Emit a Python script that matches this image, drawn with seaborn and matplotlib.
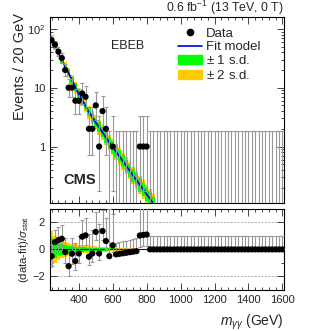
import math
import numpy as np
import pandas as pd
import matplotlib
matplotlib.use("Agg")
import matplotlib.pyplot as plt
import seaborn as sns
from matplotlib.lines import Line2D
from matplotlib.patches import Patch
from matplotlib.ticker import AutoMinorLocator, LogLocator, NullFormatter

# bin centres (20 GeV bins, 230-1610 GeV)
mass = list(range(240, 1601, 20))

# event counts
counts = [64, 54, 41, 32, 20, 10, 10, 6, 6, 8, 7, 2, 2, 5, 1, 4, 2, 0, 1,
          0, 0, 0, 0, 0, 0, 0, 1, 1, 1,
          0, 0, 0, 0, 0, 0, 0, 0, 0, 0, 0, 0, 0, 0, 0, 0, 0, 0, 0, 0,
          0, 0, 0, 0, 0, 0, 0, 0, 0, 0, 0, 0, 0, 0, 0, 0, 0, 0, 0, 0]

# fit model (events per bin)
fit_mass = [230, 240, 260, 280, 300, 320, 340, 360, 380, 400, 420, 440, 460,
            480, 500, 520, 540, 560, 580, 600, 620, 640, 660, 680, 700, 720,
            740, 760, 780, 800, 820, 840]
fit_events = [77.6, 67.6, 51.3, 38.9, 29.5, 22.4, 17.8, 13.5, 10.2, 7.76,
              6.17, 4.90, 3.85, 3.13, 2.57, 2.11, 1.74, 1.43, 1.17, 0.98,
              0.81, 0.68, 0.56, 0.47, 0.39, 0.32, 0.27, 0.224, 0.186, 0.155,
              0.129, 0.107]
# fit uncertainty, in decades (log10), for bins 240..840
fit_sd1 = [0.04, 0.04, 0.045, 0.045, 0.05, 0.055, 0.06, 0.065, 0.07, 0.07,
           0.075, 0.075, 0.08, 0.08, 0.085, 0.085, 0.09, 0.09, 0.095, 0.095,
           0.1, 0.1, 0.1, 0.105, 0.105, 0.11, 0.11, 0.11, 0.115, 0.115,
           0.12]
fit_sd2 = [0.065, 0.065, 0.07, 0.075, 0.08, 0.085, 0.09, 0.095, 0.1, 0.105,
           0.11, 0.11, 0.115, 0.12, 0.125, 0.125, 0.13, 0.13, 0.135, 0.135,
           0.14, 0.14, 0.145, 0.145, 0.15, 0.15, 0.155, 0.155, 0.16, 0.16,
           0.165]

# pulls (data-fit)/sigma_stat
pulls = [-0.5, 0.54, 0.69, 0.79, -0.2, -1.24, -0.32, -0.86, -0.3, 0.94, 1.04,
         -0.54, -0.3, 1.3, -0.3, 1.36, 0.62, -0.5, 0.3,
         -0.37, -0.33, -0.29, -0.25, -0.21, -0.17, -0.13, 1.03, 1.07, 1.1,
         0, 0, 0, 0, 0, 0, 0, 0, 0, 0, 0, 0, 0, 0, 0, 0, 0, 0, 0, 0,
         0, 0, 0, 0, 0, 0, 0, 0, 0, 0, 0, 0, 0, 0, 0, 0, 0, 0, 0, 0]
pull_lo = [0.75, 0.8, 0.8, 0.8, 0.8, 0.75, 0.75, 0.7, 0.7, 0.75, 0.75, 0.6,
           0.6, 0.6, 0.5, 0.65, 0.6, 0.0, 0.5,
           0, 0, 0, 0, 0, 0, 0, 0.85, 0.85, 0.85] + [0] * 40
pull_hi = [0.85, 0.9, 0.95, 1.0, 1.05, 1.15, 1.15, 1.3, 1.3, 1.2, 1.25, 1.7,
           1.7, 1.5, 2.2, 1.55, 1.7, 3.5, 2.3,
           0.82, 0.85, 0.88, 0.9, 0.93, 0.95, 0.98, 2.5, 2.5, 2.5] + [1.0] * 40
# fit band in pull units, bins 240..820
pull_sd1 = [0.85, 0.6, 0.45, 0.38, 0.32, 0.27, 0.23, 0.2, 0.18, 0.16, 0.15,
            0.14, 0.13, 0.12, 0.11, 0.1, 0.09, 0.08, 0.07, 0.07, 0.06, 0.06,
            0.05, 0.05, 0.04, 0.04, 0.03, 0.03, 0.03, 0.02]
pull_sd2 = [1.35, 1.0, 0.8, 0.65, 0.55, 0.48, 0.42, 0.37, 0.33, 0.3, 0.28,
            0.26, 0.24, 0.22, 0.2, 0.18, 0.16, 0.14, 0.13, 0.12, 0.11, 0.1,
            0.09, 0.08, 0.07, 0.06, 0.05, 0.05, 0.04, 0.03]


def poisson_cdf(n, mu):
    return sum(math.exp(-mu) * mu ** k / math.factorial(k) for k in range(n + 1))


def garwood(n, a=0.1587):
    # 68% Poisson interval by bisection
    def solve(f, lo, hi):
        for _ in range(60):
            mid = 0.5 * (lo + hi)
            if f(mid) > 0:
                lo = mid
            else:
                hi = mid
        return 0.5 * (lo + hi)
    up = solve(lambda mu: poisson_cdf(n, mu) - a, 0.0, n + 20.0)
    low = 0.0 if n == 0 else solve(lambda mu: a - (1 - poisson_cdf(n - 1, mu)), 0.0, n + 5.0)
    return low, up


df = pd.DataFrame({"mass": mass, "counts": counts, "pull": pulls,
                   "pull_lo": pull_lo, "pull_hi": pull_hi})
intervals = [garwood(n) for n in counts]
ybot = 1e-3
df["y"] = [n if n > 0 else ybot for n in counts]
df["err_lo"] = [(n - lo) if n > 0 else 0 for n, (lo, hi) in zip(counts, intervals)]
df["err_hi"] = [hi - y for y, (lo, hi) in zip(df["y"], intervals)]

sns.set_style("ticks")
plt.rcParams["font.family"] = ["Liberation Sans", "DejaVu Sans"]
plt.rcParams["mathtext.fontset"] = "custom"
plt.rcParams["mathtext.rm"] = "Liberation Sans"
plt.rcParams["mathtext.it"] = "Liberation Sans:italic"

fig = plt.figure(figsize=(3.16, 3.31), dpi=100)
ax1 = fig.add_axes([0.158, 0.387, 0.741, 0.562])
ax2 = fig.add_axes([0.158, 0.124, 0.741, 0.245], sharex=ax1)

green = "#00ff00"
yellow = "#ffcc00"
gray = "#999999"
blue = "#0000dd"

# ---- top panel ----
band_x = fit_mass[1:]
band_c = np.log10(fit_events[1:])
ax1.bar(band_x, 10 ** (band_c + fit_sd2) - 10 ** (band_c - fit_sd2), width=20,
        bottom=10 ** (band_c - fit_sd2), color=yellow, linewidth=0, zorder=1)
ax1.bar(band_x, 10 ** (band_c + fit_sd1) - 10 ** (band_c - fit_sd1), width=20,
        bottom=10 ** (band_c - fit_sd1), color=green, linewidth=0, zorder=2)
sns.lineplot(x=fit_mass, y=fit_events, ax=ax1, color=blue, lw=1.2, zorder=3)
ax1.errorbar(df["mass"], df["y"], yerr=[df["err_lo"], df["err_hi"]], fmt="none",
             ecolor=gray, elinewidth=0.8, capsize=1.3, capthick=0.8, zorder=4)
nz = df[df["counts"] > 0]
sns.scatterplot(data=nz, x="mass", y="counts", ax=ax1, color="black", s=20,
                edgecolor="none", zorder=5)

ax1.set_yscale("log")
ax1.set_xlim(230, 1610)
ax1.set_ylim(0.11, 160)
ax1.set_ylabel("Events / 20 GeV", fontsize=10.5, loc="top")
ax1.set_xlabel("")
ax1.yaxis.set_label_coords(-0.1, 1.02)
ax1.yaxis.set_minor_locator(LogLocator(subs=np.arange(2, 10)))
ax1.yaxis.set_minor_formatter(NullFormatter())
ax1.set_yticks([1, 10, 100])
ax1.set_yticklabels(["1", "10", r"10$^{2}$"])
ax1.tick_params(labelbottom=False)
ax1.set_title(r"0.6 fb$^{-1}$ (13 TeV, 0 T)", loc="right", fontsize=8.8, pad=3)
ax1.text(0.333, 0.845, "EBEB", transform=ax1.transAxes, ha="center",
         va="center", fontsize=9)
ax1.text(0.128, 0.124, "CMS", transform=ax1.transAxes, ha="center",
         va="center", fontsize=10.5, fontweight="bold")

handles = [Line2D([], [], marker="o", color="black", ls="none", markersize=4.5),
           Line2D([], [], color=blue, lw=1.2),
           Patch(color=green), Patch(color=yellow)]
labels = ["Data", "Fit model", r"$\pm$ 1 s.d.", r"$\pm$ 2 s.d."]
ax1.legend(handles, labels, loc="upper left", bbox_to_anchor=(0.535, 0.958),
           frameon=False, fontsize=9.5, handlelength=1.8, handleheight=0.7,
           labelspacing=0.1, borderaxespad=0.0, borderpad=0.2,
           handletextpad=0.3)

# ---- bottom panel ----
pb_x = mass[:len(pull_sd1)]
ax2.bar(pb_x, 2 * np.array(pull_sd2), width=20, bottom=-np.array(pull_sd2),
        color=yellow, linewidth=0, zorder=1)
ax2.bar(pb_x, 2 * np.array(pull_sd1), width=20, bottom=-np.array(pull_sd1),
        color=green, linewidth=0, zorder=2)
ax2.plot([230, pb_x[-1] + 10], [0, 0], color=blue, lw=0.8, zorder=3)
for yl in (-2, 2):
    ax2.axhline(yl, color="#aaaaaa", lw=0.7, ls=(0, (2, 1.5)), zorder=0)
ax2.errorbar(df["mass"], df["pull"], yerr=[df["pull_lo"], df["pull_hi"]],
             fmt="none", ecolor=gray, elinewidth=0.8, capsize=1.3,
             capthick=0.8, zorder=4)
sns.scatterplot(data=df, x="mass", y="pull", ax=ax2, color="black", s=20,
                edgecolor="none", zorder=5)
ax2.set_ylim(-3, 3)
ax2.set_yticks([-2, 0, 2])
ax2.yaxis.set_minor_locator(AutoMinorLocator(2))
ax2.set_xticks([400, 600, 800, 1000, 1200, 1400, 1600])
ax2.xaxis.set_minor_locator(AutoMinorLocator(5))
ax2.set_ylabel(r"(data-fit)/$\sigma_{\rm stat}$", fontsize=8.2)
ax2.yaxis.set_label_coords(-0.08, 0.5)
ax2.set_xlabel(r"$m_{\gamma\gamma}$ (GeV)", fontsize=10, loc="right", labelpad=6)

for ax in (ax1, ax2):
    ax.tick_params(which="both", direction="in", top=True, right=True,
                   labelsize=8, width=0.6)
    ax.tick_params(which="major", length=5)
    ax.tick_params(which="minor", length=2.5)
    for sp in ax.spines.values():
        sp.set_linewidth(0.8)
        sp.set_color("black")

fig.savefig("out.png", dpi=100)
